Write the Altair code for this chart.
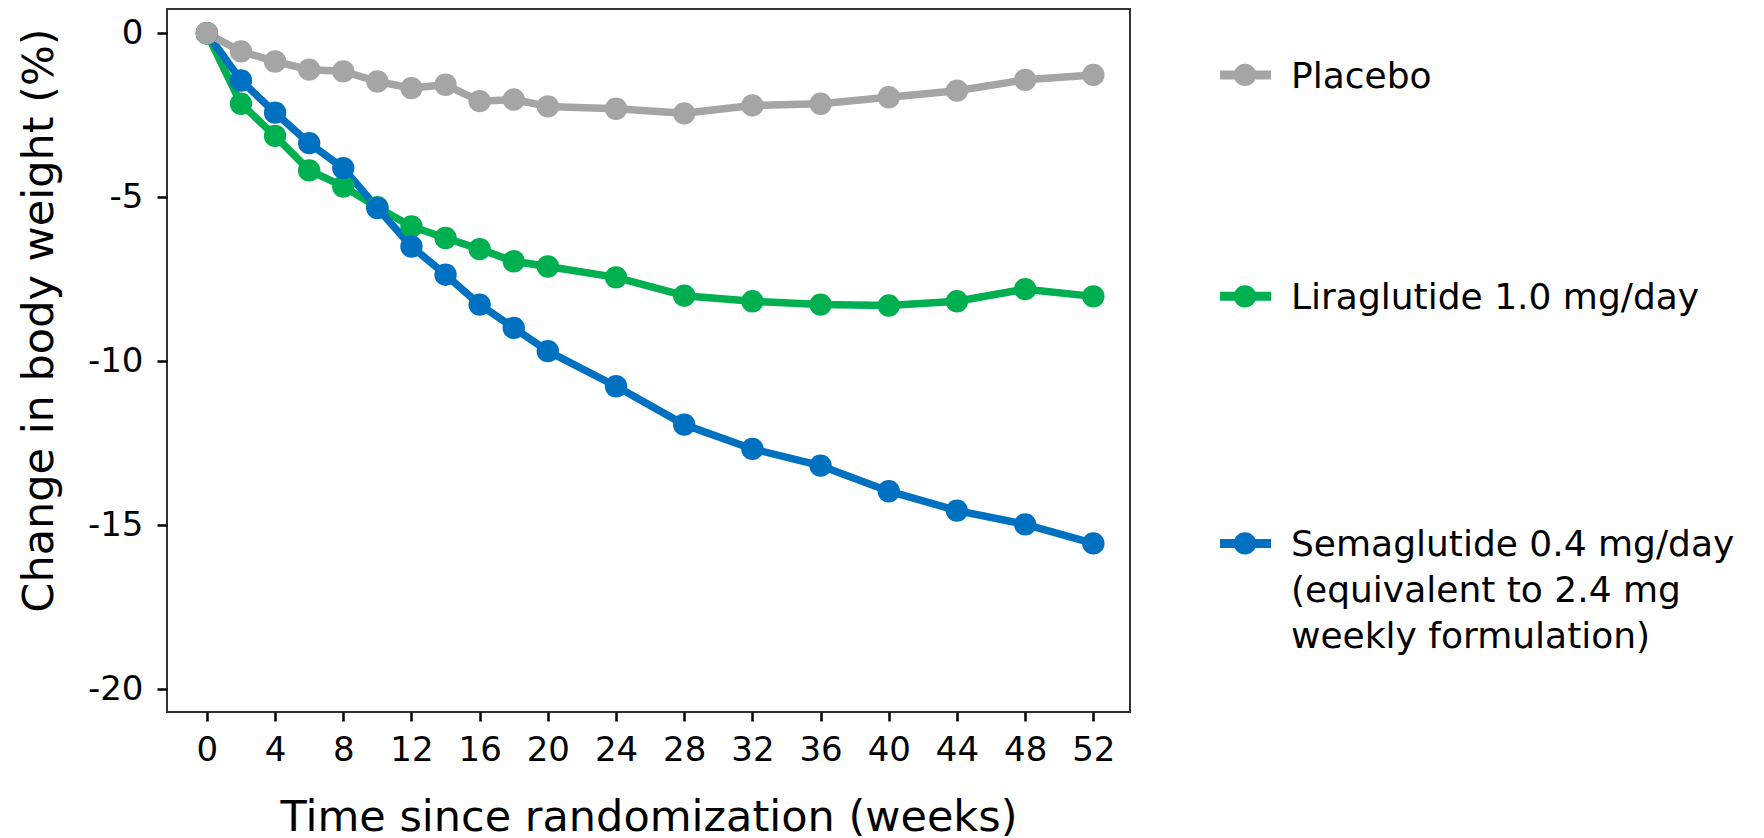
import altair as alt
import pandas as pd

# ---- data ----
weeks = [0, 2, 4, 6, 8, 10, 12, 14, 16, 18, 20, 24, 28, 32, 36, 40, 44, 48, 52]
placebo = [0, -0.55, -0.86, -1.11, -1.16, -1.47, -1.67, -1.57, -2.07, -2.02, -2.23,
           -2.30, -2.44, -2.20, -2.15, -1.95, -1.75, -1.42, -1.27]
liraglutide = [0, -2.15, -3.13, -4.18, -4.67, -5.30, -5.89, -6.24, -6.58, -6.95, -7.11,
               -7.44, -8.00, -8.17, -8.27, -8.30, -8.17, -7.80, -8.02]
semaglutide = [0, -1.44, -2.42, -3.35, -4.11, -5.33, -6.50, -7.36, -8.27, -8.98, -9.69,
               -10.76, -11.93, -12.67, -13.18, -13.96, -14.55, -14.97, -15.55]

series_names = ["Liraglutide", "Semaglutide", "Placebo"]  # drawing order
series_values = [liraglutide, semaglutide, placebo]
series_labels = ["Liraglutide 1.0 mg/day",
                 "Semaglutide 0.4 mg/day\n(equivalent to 2.4 mg\nweekly formulation)",
                 "Placebo"]
series_colors = ["#00B050", "#0070C0", "#A5A5A5"]

x_ticks = [0, 4, 8, 12, 16, 20, 24, 28, 32, 36, 40, 44, 48, 52]
y_ticks = [0, -5, -10, -15, -20]

FONT = "DejaVu Sans"

rows = []
for k, (name, vals) in enumerate(zip(series_names, series_values)):
    for w, v in zip(weeks, vals):
        rows.append({"series": name, "week": w, "change": v, "ord": k})
df = pd.DataFrame(rows)

legend_df = pd.DataFrame({
    "series": series_names,
    "label": series_labels,
    "change": [vals[-1] for vals in series_values],
    "ord": list(range(len(series_names))),
})

color = alt.Color("series:N", scale=alt.Scale(domain=series_names, range=series_colors), legend=None)

x_enc = alt.X("week:Q",
              scale=alt.Scale(domain=[-2.34, 54.15], nice=False, zero=False),
              axis=alt.Axis(values=x_ticks, title="Time since randomization (weeks)",
                            tickSize=9, labelPadding=12,
                            titleBaseline="alphabetic", titleY=118))
y_enc = alt.Y("change:Q",
              scale=alt.Scale(domain=[-20.69, 0.74], nice=False, zero=False),
              axis=alt.Axis(values=y_ticks, title="Change in body weight (%)",
                            labelExpr="toString(datum.value)",
                            tickSize=10, labelPadding=14,
                            titleAngle=270, titleAlign="center", titleBaseline="alphabetic",
                            titleX=-115, titleY=311))

base = alt.Chart(df)
lines = base.mark_line(strokeWidth=7.5, strokeJoin="round").encode(
    x=x_enc, y=y_enc, color=color, detail="series:N")
points = base.mark_point(filled=True, size=500, opacity=1).encode(
    x=x_enc, y=y_enc, color=color, order=alt.Order("ord:Q"))

leg = alt.Chart(legend_df)
leg_line = leg.mark_rule(strokeWidth=9).encode(
    x=alt.value(1053), x2=alt.value(1104), y=y_enc, color=color)
leg_point = leg.mark_point(filled=True, size=500, opacity=1).encode(
    x=alt.value(1078), y=y_enc, color=color)
leg_text = leg.mark_text(align="left", baseline="alphabetic", dy=13, fontSize=36,
                         lineBreak="\n", lineHeight=46, font=FONT, color="black").encode(
    x=alt.value(1124), y=y_enc, text="label:N")

chart = alt.layer(lines, points, leg_line, leg_point, leg_text).properties(
    width=963, height=703,
    autosize=alt.AutoSizeParams(type="none"),
    padding={"left": 159, "top": 1, "right": 620, "bottom": 130},
    background="white",
).configure_view(
    stroke="#333333", strokeWidth=2
).configure_axis(
    domain=False, grid=False,
    tickColor="black", tickWidth=2.5,
    labelFont=FONT, labelFontSize=34, labelColor="black",
    titleFont=FONT, titleFontSize=43, titleFontWeight="normal", titleColor="black",
)

chart.save("out.html", embed_options={"renderer": "svg", "actions": False})
